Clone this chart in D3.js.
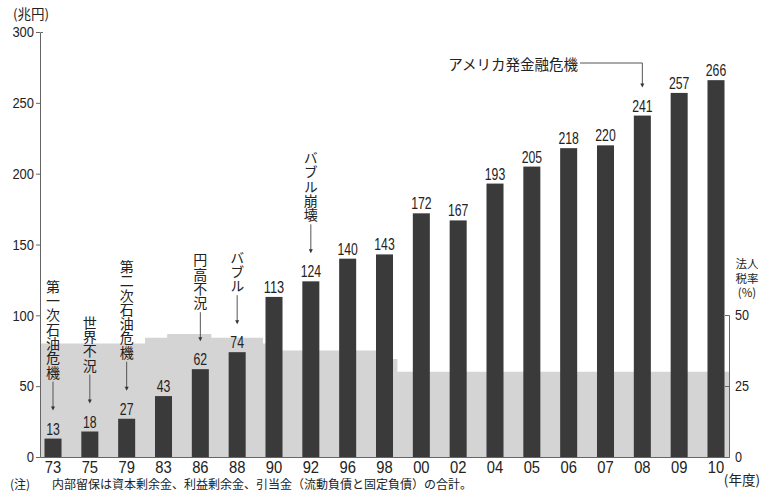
<!DOCTYPE html>
<html>
<head>
<meta charset="utf-8">
<script src="https://cdn.jsdelivr.net/npm/d3@7"></script>
<style>
  body { margin: 0; background: #fff; }
  svg text { fill: #222; }
  .num { font-family: "Liberation Sans", Arial, sans-serif; }
  .jp { font-family: "Noto Sans CJK JP", sans-serif; }
  .vert { writing-mode: vertical-rl; }
</style>
</head>
<body>
<div id="chart-area"></div>
<script>
// fiscal years and internal reserves (trillion yen)
var years = ["73", "75", "79", "83", "86", "88", "90", "92", "96", "98", "00", "02", "04", "05", "06", "07", "08", "09", "10"];
var reserves = [13, 18, 27, 43, 62, 74, 113, 124, 140, 143, 172, 167, 193, 205, 218, 220, 241, 257, 266];

// corporate tax rate (%), step starts
var taxFrom = [1973, 1981, 1983.3, 1986.6, 1989.4, 1990, 1998, 1998.7];
var taxRate = [40, 42, 43.3, 42, 40, 37.5, 34.5, 30];

var leftTicks = [0, 50, 100, 150, 200, 250, 300];
var rightTicks = [0, 25, 50];

// events
var eventYears = ["73", "75", "79", "86", "88", "92"];
var eventLabels = ["第一次石油危機", "世界不況", "第二次石油危機", "円高不況", "バブル", "バブル崩壊"];
var crisisYear = "08";
var crisisLabel = "アメリカ発金融危機";

var width = 761, height = 492;

var svg = d3.select("#chart-area")
  .append("svg")
  .attr("width", width)
  .attr("height", height);

var x = d3.scaleBand()
  .domain(years)
  .range([40, 729])
  .paddingInner(0.538)
  .paddingOuter(0.122);

var y = d3.scaleLinear().domain([0, 300]).range([457, 32]);
var yTax = d3.scaleLinear().domain([0, 50]).range([457, 315]);

var fullYear = d => (+d < 50 ? 2000 : 1900) + (+d);
var center = d => x(d) + x.bandwidth() / 2;

// the digits in the original are narrow
function narrow(sel, perChar) {
  sel.attr("textLength", function() { return this.textContent.length * perChar; })
    .attr("lengthAdjust", "spacingAndGlyphs");
}

// year -> x position between the category centres
var yearX = d3.scaleLinear()
  .domain(years.map(fullYear))
  .range(years.map(center))
  .clamp(true);

// tax rate area
var taxPts = [];
taxFrom.forEach((f, i) => {
  var x0 = i == 0 ? x.range()[0] : yearX(f);
  var x1 = i == taxFrom.length - 1 ? x.range()[1] : yearX(taxFrom[i + 1]);
  taxPts.push([x0, yTax(taxRate[i])]);
  taxPts.push([x1, yTax(taxRate[i])]);
});
var area = d3.area()
  .x(d => d[0])
  .y0(yTax(0))
  .y1(d => d[1]);
svg.append("path")
  .datum(taxPts)
  .attr("d", area)
  .attr("fill", "#d4d4d4");

// bars
svg.selectAll("rect.bar")
  .data(years).enter()
  .append("rect")
  .attr("class", "bar")
  .attr("x", d => x(d))
  .attr("width", x.bandwidth())
  .attr("y", (d, i) => y(reserves[i]))
  .attr("height", (d, i) => y(0) - y(reserves[i]))
  .attr("fill", "#3a3a3a");

svg.selectAll("text.val")
  .data(years).enter()
  .append("text")
  .attr("class", "val num")
  .attr("x", d => center(d))
  .attr("y", (d, i) => y(reserves[i]) - 4)
  .attr("text-anchor", "middle")
  .attr("font-size", "16px")
  .text((d, i) => reserves[i])
  .call(narrow, 6.8);

// axes
var leftAxis = d3.axisLeft(y).tickValues(leftTicks).tickSizeInner(4).tickSizeOuter(-3).tickPadding(2);
var gl = svg.append("g")
  .attr("transform", "translate(" + x.range()[0] + ",0)")
  .call(leftAxis);
gl.selectAll("text").attr("class", "num").attr("font-size", "15px").call(narrow, 7.2);

var rightAxis = d3.axisRight(yTax).tickValues(rightTicks).tickSizeInner(-4).tickSizeOuter(-4).tickPadding(6);
var gr = svg.append("g")
  .attr("transform", "translate(" + x.range()[1] + ",0)")
  .call(rightAxis);
gr.selectAll("text").attr("class", "num").attr("font-size", "15px").call(narrow, 7);

var bottomAxis = d3.axisBottom(x).tickSize(0).tickPadding(5);
var gb = svg.append("g")
  .attr("transform", "translate(0," + y(0) + ")")
  .call(bottomAxis);
gb.selectAll("text").attr("class", "num").attr("font-size", "16px").call(narrow, 8.2);

svg.selectAll(".domain, .tick line").attr("stroke", "#666");
svg.selectAll(".tick text").attr("fill", "#222");

// event annotations (vertical text + arrow)
eventYears.forEach((yr, i) => {
  var v = reserves[years.indexOf(yr)];
  var cx = center(yr);
  var end = y(v) - 28;
  var top = end - 29;
  svg.append("line")
    .attr("x1", cx).attr("x2", cx)
    .attr("y1", top).attr("y2", end - 3)
    .attr("stroke", "#555");
  svg.append("path")
    .attr("d", "M" + (cx - 2) + "," + (end - 4) + "L" + (cx + 2) + "," + (end - 4) + "L" + cx + "," + end + "Z")
    .attr("fill", "#333");
  svg.append("text")
    .attr("class", "jp vert")
    .attr("x", cx)
    .attr("y", top - 2)
    .attr("text-anchor", "end")
    .attr("font-size", "14px")
    .attr("letter-spacing", "0.3px")
    .text(eventLabels[i]);
});

// financial crisis annotation
var cx8 = center(crisisYear);
var end8 = y(reserves[years.indexOf(crisisYear)]) - 28;
svg.append("path")
  .attr("d", "M580,63H" + cx8 + "V" + (end8 - 3))
  .attr("fill", "none")
  .attr("stroke", "#555");
svg.append("path")
  .attr("d", "M" + (cx8 - 2) + "," + (end8 - 4) + "L" + (cx8 + 2) + "," + (end8 - 4) + "L" + cx8 + "," + end8 + "Z")
  .attr("fill", "#333");
svg.append("text")
  .attr("class", "jp")
  .attr("x", 578)
  .attr("y", 63)
  .attr("text-anchor", "end")
  .attr("dominant-baseline", "central")
  .attr("font-size", "14.5px")
  .text(crisisLabel);

// unit labels
svg.append("text")
  .attr("class", "jp")
  .attr("x", 13).attr("y", 19)
  .attr("font-size", "13.5px")
  .text("(兆円)");

svg.append("g").selectAll("text")
  .data(["法人", "税率", "(%)"]).enter()
  .append("text")
  .attr("class", "jp")
  .attr("font-size", "11.5px")
  .attr("text-anchor", "middle")
  .attr("x", 747)
  .attr("y", (d, i) => 268 + i * 14.5)
  .text(d => d);

svg.append("text")
  .attr("class", "jp")
  .attr("x", 760).attr("y", 485)
  .attr("text-anchor", "end")
  .attr("font-size", "13.5px")
  .text("(年度)");

svg.append("text")
  .attr("class", "jp")
  .attr("x", 10).attr("y", 489)
  .attr("font-size", "12px")
  .text("(注)");
svg.append("text")
  .attr("class", "jp")
  .attr("x", 52).attr("y", 489)
  .attr("font-size", "12px")
  .text("内部留保は資本剰余金、利益剰余金、引当金（流動負債と固定負債）の合計。");
</script>
</body>
</html>
